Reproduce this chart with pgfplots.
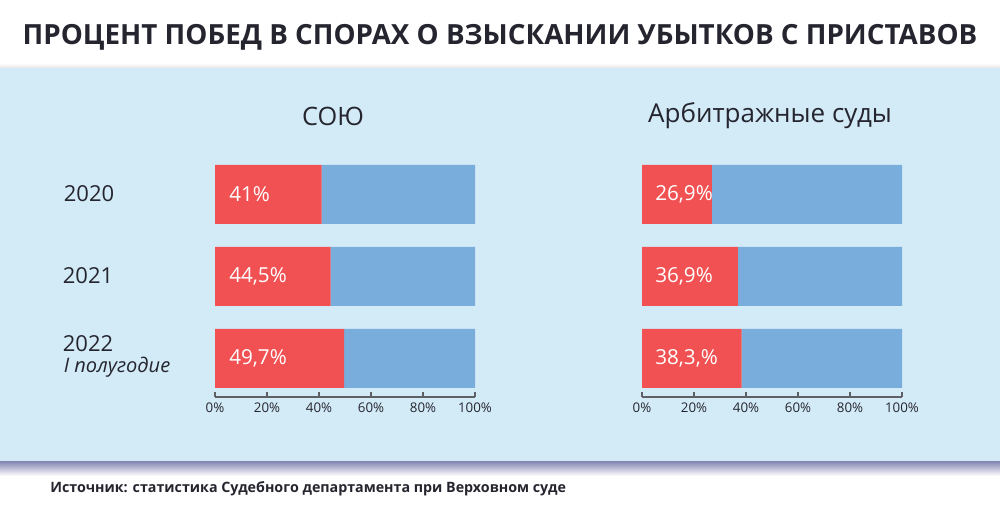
\documentclass[border=0pt]{standalone}
\usepackage{pgfplots}
\pgfplotsset{compat=1.18}
\usepackage{fontspec}
\setmainfont{Open Sans}
\definecolor{panel}{HTML}{D3EBF7}
\definecolor{winred}{HTML}{F15152}
\definecolor{restblue}{HTML}{79ADDC}
\definecolor{ink}{HTML}{25252F}
\definecolor{axgray}{HTML}{5F5F66}
\definecolor{shadow}{HTML}{8A8DB6}

\tikzset{val/.style={font=\fontsize{15.5}{17}\selectfont, text=white, anchor=west, inner sep=0pt}}
\pgfplotsset{
  courts/.style={
    xbar stacked,
    scale only axis,
    width=195pt, height=188.8pt,
    anchor=south west,
    xmin=0, xmax=100,
    ymin=-0.6, ymax=2.47,
    y dir=reverse,
    bar width=0.72,
    axis x line*=bottom,
    axis y line=none,
    axis line style={axgray, line width=0.9pt, -},
    xtick={0,20,...,100},
    xticklabel={\pgfmathprintnumber{\tick}\%},
    tick align=inside,
    major tick length=3.8pt,
    every tick/.style={axgray, line width=0.9pt},
    tick label style={font=\fontsize{10}{11}\selectfont, text=ink},
    /pgf/number format/assume math mode=true,
    xticklabel style={yshift=-0.5pt},
    clip=false,
  },
}

\begin{document}
\begin{tikzpicture}[x=0.75pt, y=0.75pt]
\path[use as bounding box, fill=white] (0,0) rectangle (1000,510);
% panel with soft shadows
\shade[top color=white, bottom color=black!10] (0,442) rectangle (1000,447);
\fill[panel] (0,48) rectangle (1000,442);
\shade[top color=shadow, bottom color=white] (0,34) rectangle (1000,48);

\node[font=\bfseries, text=ink] at (500,473)
  {\resizebox{716pt}{!}{ПРОЦЕНТ ПОБЕД В СПОРАХ О ВЗЫСКАНИИ УБЫТКОВ С ПРИСТАВОВ}};

\node[font=\fontsize{19}{21}\selectfont, text=ink] at (333,394) {СОЮ};
\node[font=\fontsize{19.5}{21}\selectfont, text=ink] at (770,394) {Арбитражные суды};

\node[font=\fontsize{16.5}{18}\selectfont, text=ink] at (89,316) {2020};
\node[font=\fontsize{16.5}{18}\selectfont, text=ink] at (88,234) {2021};
\node[font=\fontsize{16.5}{18}\selectfont, text=ink] at (88,166) {2022};
\node[font=\fontsize{15}{17}\selectfont\itshape, text=ink] at (117,143) {I полугодие};

% СОЮ
\begin{axis}[courts, at={(161.25pt,84.75pt)}]
\addplot[fill=winred, draw=none] coordinates {(41,0) (44.5,1) (49.7,2)};
\addplot[fill=restblue, draw=none] coordinates {(59,0) (55.5,1) (50.3,2)};
\end{axis}

% Арбитражные суды
\begin{axis}[courts, at={(481.5pt,84.75pt)}]
\addplot[fill=winred, draw=none] coordinates {(26.9,0) (36.9,1) (38.3,2)};
\addplot[fill=restblue, draw=none] coordinates {(73.1,0) (63.1,1) (61.7,2)};
\end{axis}

% value labels inside the red bars
\node[val] at (229,315.5) {41\%};
\node[val] at (229,233.5) {44,5\%};
\node[val] at (229,151.5) {49,7\%};
\node[val] at (655,315.5) {26,9\%};
\node[val] at (655,233.5) {36,9\%};
\node[val] at (655,151.5) {38,3,\%};

\node[anchor=west, font=\fontsize{10.7}{12}\selectfont\bfseries, text=ink, inner sep=0pt] at (50,21)
  {Источник: статистика Судебного департамента при Верховном суде};
\end{tikzpicture}
\end{document}
